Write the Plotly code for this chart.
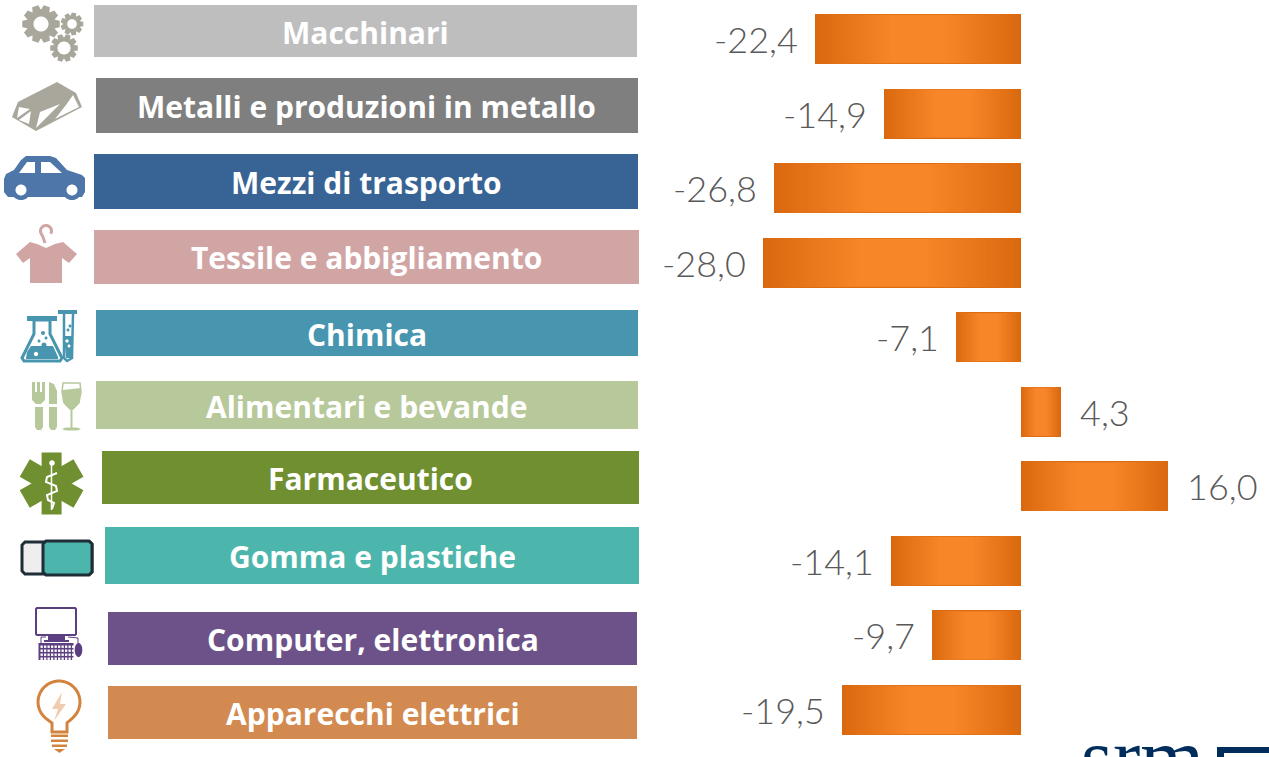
import numpy as np
import plotly.graph_objects as go

W, H = 1269, 757

# ---------- data ----------
categories = ["Macchinari", "Metalli e produzioni in metallo", "Mezzi di trasporto",
              "Tessile e abbigliamento", "Chimica", "Alimentari e bevande", "Farmaceutico",
              "Gomma e plastiche", "Computer, elettronica", "Apparecchi elettrici"]
values = [-22.4, -14.9, -26.8, -28.0, -7.1, 4.3, 16.0, -14.1, -9.7, -19.5]
label_colors = ["#BEBEBE", "#7F7F7F", "#376395", "#D2A5A5", "#4795AE",
                "#B7C99A", "#708F30", "#4DB6AC", "#6D5289", "#D28A50"]

# ---------- layout geometry (pixels) ----------
label_boxes = [(94, 637, 5, 57), (96, 638, 78, 133), (94, 638, 154, 209), (94, 639, 230, 284),
               (96, 638, 310, 356), (96, 638, 381, 429), (102, 639, 451, 504), (105, 639, 527, 584),
               (108, 637, 612, 665), (108, 637, 686, 739)]
ZERO_PX, PX_PER_UNIT = 1021.0, 9.2
ROW0_PX, ROW_STEP = 39.0, 74.56
BAR_WIDTH = 50 / ROW_STEP


def px(x, y):
    return f"{x / W:.5f},{1 - y / H:.5f}"


def poly(points, close=True):
    s = "M" + " L".join(px(x, y) for x, y in points)
    return s + (" Z" if close else "")


def circle_pts(cx, cy, r, ry=None, n=48):
    ry = r if ry is None else ry
    t = np.linspace(0, 2 * np.pi, n, endpoint=False)
    return list(zip(cx + r * np.cos(t), cy + ry * np.sin(t)))


def arc_pts(cx, cy, r, a0, a1, n=30):
    t = np.radians(np.linspace(a0, a1, n))
    return list(zip(cx + r * np.cos(t), cy + r * np.sin(t)))


def gear(cx, cy, r_out, r_root, r_hole, teeth):
    pts = []
    step = 2 * np.pi / teeth
    for k in range(teeth):
        a = k * step
        for da, r in [(-0.30, r_root), (-0.17, r_out), (0.17, r_out), (0.30, r_root)]:
            pts.append((cx + r * np.cos(a + da * step * 1.6), cy + r * np.sin(a + da * step * 1.6)))
    return poly(pts) + " " + poly(circle_pts(cx, cy, r_hole))


shapes = []


def fill(path, color):
    shapes.append(dict(type="path", path=path, xref="paper", yref="paper", fillcolor=color,
                       line=dict(width=0), layer="above"))


def stroke(points, color, width, close=False, fc="rgba(0,0,0,0)"):
    shapes.append(dict(type="path", path=poly(points, close), xref="paper", yref="paper",
                       fillcolor=fc, line=dict(color=color, width=width), layer="above"))


def rect(x0, x1, y0, y1, color):
    fill(poly([(x0, y0), (x1, y0), (x1, y1), (x0, y1)]), color)


# label boxes
for (x0, x1, y0, y1), c in zip(label_boxes, label_colors):
    rect(x0, x1, y0, y1, c)

# gears
G = "#A9A69C"
fill(gear(41, 24, 19, 14.5, 7.5, 10), G)
fill(gear(72, 24, 11.5, 8.5, 4.8, 9), G)
fill(gear(64, 48, 14, 10.5, 6.5, 10), G)

# ingot
fill(poly([(57, 82), (76, 93), (82, 107), (36, 131), (12, 117), (18, 102)]), G)
for tri in ([(19, 107), (30, 109), (17, 118)], [(31, 111), (19, 120), (29, 124)],
            [(40, 112), (60, 104), (36, 128)], [(66, 105), (73, 95), (79, 107), (55, 119)]):
    fill(poly(tri), "#FFFFFF")

# car
C = "#4F76A8"
fill(poly([(4, 179), (6, 174), (14, 170), (21, 160), (26, 156), (50, 156), (56, 158), (67, 170),
           (82, 175), (85, 178), (85, 192), (82, 197), (64, 197), (30, 197), (8, 197), (4, 192)]), C)
fill(poly(circle_pts(21, 190, 10)), C)
fill(poly(circle_pts(72, 190, 10)), C)
fill(poly(circle_pts(21, 190, 5.5)), "#FFFFFF")
fill(poly(circle_pts(72, 190, 5.5)), "#FFFFFF")
fill(poly([(19, 173), (27, 162), (35, 162), (35, 173)]), "#FFFFFF")
fill(poly([(41, 162), (50, 162), (62, 173), (41, 173)]), "#FFFFFF")

# t-shirt with hanger
T = "#D2A5A5"
fill(poly([(16, 254), (30, 242), (37, 244), (46, 248), (55, 244), (63, 242), (77, 254), (69, 263),
           (62, 258), (62, 283), (30, 283), (30, 258), (23, 263)]), T)
stroke(arc_pts(46, 231, 5.5, 30, -215) + [(43, 237), (45, 243)], T, 3)

# flask and test tube
F = "#4795AE"
fill(poly([(27, 316), (57, 316), (57, 321), (27, 321)]), F)
stroke([(34, 320), (34, 334), (22, 358), (24, 361), (60, 361), (62, 358), (50, 334), (50, 320)], F, 3, True)
fill(poly([(27, 352), (31, 346), (53, 346), (58, 357), (58, 359), (26, 359)]), F)
for cx, cy, r in [(36, 354, 2.2), (43, 333, 2), (44, 345, 2.5), (39, 341, 1.5), (46, 338, 1.5)]:
    fill(poly(circle_pts(cx, cy, r, n=16)), "#FFFFFF" if cy > 346 else F)
rect(58, 77, 310, 314, F)
stroke([(64, 314), (64, 358), (67, 361), (72, 358), (73, 314)], F, 2.5)
fill(poly([(64, 336), (73, 336), (73, 358), (66, 358)]), F)
for cx, cy, r in [(67, 341, 1.7), (69, 346, 1.5), (68, 330, 1.5), (70, 326, 1.5)]:
    fill(poly(circle_pts(cx, cy, r, n=16)), "#FFFFFF" if cy > 336 else F)

# cutlery and glass
A = "#B7C99A"
fill(poly([(32, 382), (35, 382), (35, 392), (37, 392), (37, 382), (40, 382), (40, 392), (42, 392), (42, 382),
           (45, 382), (45, 400), (41, 404), (36, 404), (32, 400)]), A)
fill(poly([(35, 407), (43, 407), (43, 427), (41, 430), (37, 430), (35, 427)]), A)
fill(poly([(49, 382), (54, 384), (57, 391), (57, 404), (49, 404)]), A)
fill(poly([(49, 407), (57, 407), (57, 427), (55, 430), (51, 430), (49, 427)]), A)
stroke([(63, 383), (80, 383), (81, 392), (79, 403), (73, 409), (70, 409), (64, 403), (62, 392)], A, 1.5, True)
fill(poly([(62.5, 390), (81, 388), (81, 392), (79, 403), (73, 409), (70, 409), (64, 403), (62, 392)]), A)
rect(70.5, 72.5, 409, 428, A)
fill(poly(circle_pts(71.5, 429, 9, 1.6)), A)

# star of life
S = "#708F30"
cx, cy, L, hw = 51.6, 483.5, 31, 10
for ang in (90, 30, 150):
    a = np.radians(ang)
    dx, dy = np.cos(a), np.sin(a)
    nx, ny = -dy, dx
    fill(poly([(cx - L * dx - hw * nx, cy - L * dy - hw * ny), (cx + L * dx - hw * nx, cy + L * dy - hw * ny),
               (cx + L * dx + hw * nx, cy + L * dy + hw * ny), (cx - L * dx + hw * nx, cy - L * dy + hw * ny)]), S)
stroke([(51.5, 464), (51.5, 510)], "#FFFFFF", 1.5)
stroke([(57, 473), (47, 477), (46, 482), (56, 486), (57, 491), (47, 495), (48, 500), (54, 503), (52, 509)], "#FFFFFF", 2)
fill(poly(circle_pts(52, 463, 2.8, n=16)), "#FFFFFF")

# eraser
E = "#1F2D36"
stroke([(25, 542), (90, 542), (92, 544), (92, 572), (90, 574), (25, 574), (22, 571), (22, 545)], E, 3, True, "#EEEEEE")
stroke([(46, 541), (89, 541), (92, 544), (92, 572), (89, 575), (46, 575), (43, 572), (43, 544)], E, 3, True, "#4DB6AC")

# computer
K = "#5B3F80"
stroke([(37, 608), (75, 608), (76, 609), (76, 634), (75, 635), (37, 635), (36, 634), (36, 609)], K, 2, True, "#FFFFFF")
rect(48, 65, 635, 640, K)
rect(44, 69, 640, 642, K)
rect(38.5, 73.5, 643, 660, K)
for row_y in (645.5, 649.5, 653.5, 657.5):
    for col_x in np.arange(40.5, 73, 3.5):
        rect(col_x, col_x + 2.3, row_y, row_y + 2.4, "#FFFFFF")
stroke([(41, 643), (41, 637), (46, 637)], K, 1)
stroke([(68, 637), (78, 638), (78, 643)], K, 1)
fill(poly(circle_pts(78.5, 650, 3.8, 7)), K)

# bulb
B = "#D2843F"
stroke(arc_pts(59, 702, 21, 130, 410) + [(67, 723), (67, 732), (52, 732), (52, 723)], B, 3, True)
fill(poly([(62, 692), (52, 709), (58, 709), (54, 721), (66, 704), (60, 704)]), "#F0CDB0")
rect(51, 68, 734.5, 737, B)
rect(51, 68, 739.5, 742, B)
rect(52, 67, 744.5, 747, B)
fill(poly([(54, 749), (65, 749), (59.5, 753)]), B)

# logo fragment
N = "#002D5B"
rect(1217, 1269, 747, 753, N)
rect(1217, 1224, 747, 757, N)

# ---------- bars with a concentric gradient ----------
y_idx = list(range(len(values)))
edge, centre = np.array([218, 104, 14]), np.array([247, 134, 40])
LAYERS = 40
fig = go.Figure()
for k in range(LAYERS):
    t = k / (LAYERS - 1)
    inset = 0.5 * t * 0.85
    col = edge + (centre - edge) * min(1, t * 1.15)
    fig.add_trace(go.Bar(
        y=y_idx,
        x=[v * (1 - 2 * inset) for v in values],
        base=[v * inset for v in values],
        width=BAR_WIDTH * (1 - 0.07 * t),
        orientation="h",
        marker=dict(color=f"rgb({col[0]:.0f},{col[1]:.0f},{col[2]:.0f})", line=dict(width=0)),
        hoverinfo="skip", showlegend=False,
    ))

annotations = []
for (x0, x1, y0, y1), name in zip(label_boxes, categories):
    annotations.append(dict(text=name, x=(x0 + x1) / 2 / W, y=1 - ((y0 + y1) / 2 + 1) / H,
                            xref="paper", yref="paper", showarrow=False, xanchor="center", yanchor="middle",
                            font=dict(family="Open Sans", size=30, color="#FFFFFF", weight=700)))
for i, v in enumerate(values):
    annotations.append(dict(text=f"{v:.1f}".replace(".", ","), x=v, y=i, xref="x", yref="y", showarrow=False,
                            xanchor="right" if v < 0 else "left", yanchor="middle",
                            xshift=-15 if v < 0 else 17, yshift=0,
                            font=dict(family="Lato", size=36, color="#595959", weight=300)))
annotations.append(dict(text="srm", x=1079 / W, y=1 - 757 / H, xref="paper", yref="paper", showarrow=False,
                        xanchor="left", yanchor="middle", font=dict(family="Liberation Serif", size=82, color=N)))

fig.update_layout(
    width=W, height=H, margin=dict(l=0, r=0, t=0, b=0), autosize=False,
    paper_bgcolor="#FFFFFF", plot_bgcolor="#FFFFFF", barmode="overlay", bargap=0,
    xaxis=dict(range=[-ZERO_PX / PX_PER_UNIT, (W - ZERO_PX) / PX_PER_UNIT], visible=False, fixedrange=True),
    yaxis=dict(range=[(H - ROW0_PX) / ROW_STEP, -ROW0_PX / ROW_STEP], visible=False, fixedrange=True),
    shapes=shapes, annotations=annotations,
)
fig.write_html("out.html", config=dict(displayModeBar=False),
               post_script="document.body.style.margin='0';document.body.style.overflow='hidden';")
